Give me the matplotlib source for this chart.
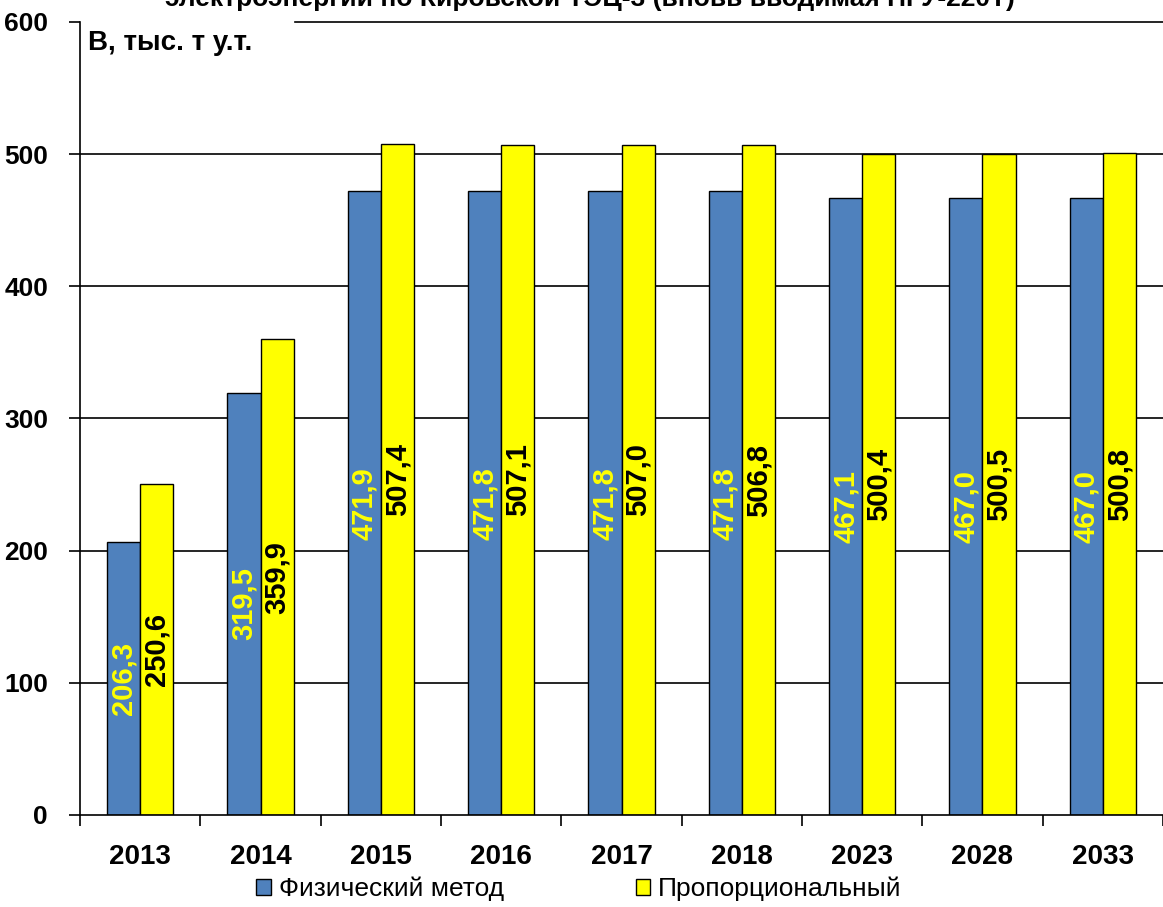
import numpy as np
import matplotlib
matplotlib.use("Agg")
import matplotlib.pyplot as plt
from matplotlib.patches import Patch

plt.rcParams['font.family'] = ['Liberation Sans', 'DejaVu Sans']

years = ['2013', '2014', '2015', '2016', '2017', '2018', '2023', '2028', '2033']
physical = [206.3, 319.5, 471.9, 471.8, 471.8, 471.8, 467.1, 467.0, 467.0]
proportional = [250.6, 359.9, 507.4, 507.1, 507.0, 506.8, 500.4, 500.5, 500.8]

blue = '#4F81BD'
yellow = '#FFFF00'

fig = plt.figure(figsize=(11.63, 9.07), dpi=100)
ax = fig.add_axes([80 / 1163, 92 / 907, 1083 / 1163, 793 / 907])

x = np.arange(len(years))
w = 0.275

# gridlines behind the bars (top one starts right of the unit label)
for v in range(100, 600, 100):
    ax.axhline(v, color='black', lw=1.2, zorder=0)
ax.axhline(600, xmin=215 / 1083, xmax=1, color='black', lw=1.2, zorder=0, clip_on=False)

ax.bar(x - w / 2, physical, w, color=blue, edgecolor='black', lw=1, zorder=2)
ax.bar(x + w / 2, proportional, w, color=yellow, edgecolor='black', lw=1, zorder=2)

def fmt(v):
    return ('%.1f' % v).replace('.', ',')

for xi, v in zip(x, physical):
    ax.text(xi - w / 2, v / 2, fmt(v), rotation=90, ha='center', va='center',
            color=yellow, fontsize=21, fontweight='bold', zorder=3)
for xi, v in zip(x, proportional):
    ax.text(xi + w / 2, v / 2, fmt(v), rotation=90, ha='center', va='center',
            color='black', fontsize=21, fontweight='bold', zorder=3)

ax.set_xlim(-0.5, len(years) - 0.5)
ax.set_ylim(0, 600)
ax.set_yticks(range(0, 601, 100))
ax.set_xticks(np.arange(-0.5, len(years), 1.0))
ax.set_xticklabels([])
ax.set_xticks(x, minor=True)
ax.set_xticklabels(years, minor=True)
ax.tick_params(axis='x', which='minor', length=0, pad=21, labelsize=20)
ax.tick_params(axis='x', which='major', length=8, width=1.2, direction='out')
ax.tick_params(axis='y', length=8, width=1.2, direction='out', labelsize=19, pad=15)
for lab in ax.get_xticklabels(minor=True) + ax.get_yticklabels():
    lab.set_fontweight('bold')

for s in ['top', 'right']:
    ax.spines[s].set_visible(False)
ax.spines['left'].set_linewidth(1.2)
ax.spines['bottom'].set_linewidth(1.2)

ax.text(8 / 1083, 0.99, 'В, тыс. т у.т.', transform=ax.transAxes, ha='left', va='top',
        fontsize=20, fontweight='bold', zorder=5)

fig.text(590 / 1163, 1 - 6 / 907, 'электроэнергии по Кировской ТЭЦ-3 (вновь вводимая ПГУ-220Т)',
         ha='center', va='baseline', fontsize=19, fontweight='bold')

handles = [Patch(facecolor=blue, edgecolor='black', label='Физический метод'),
           Patch(facecolor=yellow, edgecolor='black', label='Пропорциональный')]
fig.legend(handles=handles, loc='center', bbox_to_anchor=(579 / 1163, 1 - 889 / 907), ncol=2,
           frameon=False, fontsize=19, handlelength=0.55, handleheight=0.55,
           handletextpad=0.3, columnspacing=5.0)

fig.savefig('out.png', dpi=100)
